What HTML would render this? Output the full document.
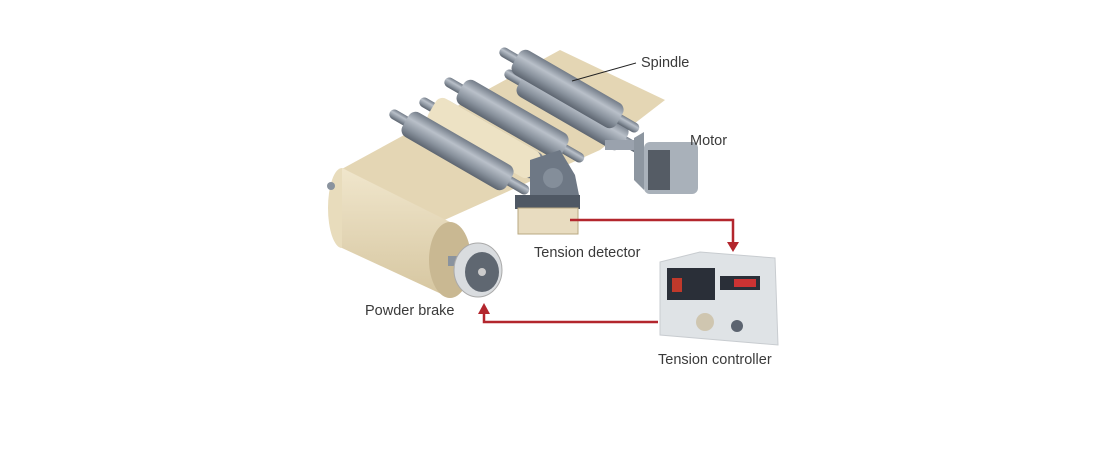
<!DOCTYPE html>
<html><head><meta charset="utf-8"><style>
html,body{margin:0;padding:0;background:#fff;}
svg{display:block}
text{font-family:"Liberation Sans",sans-serif;fill:#3a3a3a;font-size:14.5px}
</style></head><body>
<svg width="1113" height="466" viewBox="0 0 1113 466">
<defs>
<linearGradient id="rg" x1="0" y1="0" x2="0" y2="1">
<stop offset="0" stop-color="#737c88"/><stop offset="0.35" stop-color="#b9c0c9"/><stop offset="0.7" stop-color="#8a939e"/><stop offset="1" stop-color="#5d6570"/></linearGradient>
<linearGradient id="bg" x1="0" y1="0" x2="0" y2="1">
<stop offset="0" stop-color="#f0e6cc"/><stop offset="1" stop-color="#d6c6a0"/></linearGradient>
<g id="roll">
<rect x="0" y="-5" width="160" height="10" rx="5" fill="url(#rg)"/>
<rect x="18" y="-14" width="120" height="28" rx="8" fill="url(#rg)"/>
</g>
</defs>
<!-- web -->
<polygon points="560,50 665,100 600,150 440,222 340,170" fill="#e4d6b4"/>
<!-- back rollers -->
<g transform="translate(505,72) rotate(30)"><use href="#roll"/></g>
<g transform="translate(420,100) rotate(30)"><use href="#roll"/></g>
<g transform="translate(432,108) rotate(30)"><rect x="0" y="-15" width="120" height="30" rx="8" fill="#ede2c4"/></g>
<g transform="translate(500,50) rotate(30)"><use href="#roll"/></g>
<g transform="translate(445,80) rotate(30)"><use href="#roll"/></g>
<g transform="translate(390,112) rotate(30)"><use href="#roll"/></g>
<!-- big roll -->
<ellipse cx="342" cy="208" rx="14" ry="40" fill="#e8dcbc"/>
<polygon points="342,168 450,222 450,298 342,248" fill="url(#bg)"/>
<ellipse cx="450" cy="260" rx="21" ry="38" fill="#c9b892"/>
<circle cx="331" cy="186" r="4" fill="#8a939e"/>
<rect x="448" y="256" width="18" height="10" fill="#8a939e"/>
<!-- brake -->
<ellipse cx="478" cy="270" rx="24" ry="27" fill="#d9dcdf" stroke="#aaa"/>
<ellipse cx="482" cy="272" rx="17" ry="20" fill="#5f6771"/>
<circle cx="482" cy="272" r="4" fill="#ccc"/>
<!-- detector -->
<path d="M530,160 L560,150 L575,175 L580,200 L530,205 Z" fill="#6e7885"/>
<circle cx="553" cy="178" r="10" fill="#848e9a"/>
<rect x="515" y="195" width="65" height="14" fill="#4f5864"/>
<rect x="518" y="208" width="60" height="26" fill="#e8dcc0" stroke="#b9a982"/>
<!-- motor -->
<rect x="605" y="140" width="35" height="10" fill="#9aa2ad"/>
<polygon points="634,138 644,132 644,190 634,180" fill="#8d96a0"/>
<rect x="644" y="142" width="54" height="52" rx="6" fill="#a9b1ba"/>
<rect x="648" y="150" width="22" height="40" fill="#555c65"/>
<!-- spindle leader -->
<line x1="572" y1="81" x2="636" y2="63" stroke="#222" stroke-width="1"/>
<!-- controller -->
<path d="M660,262 L700,252 L775,258 L778,345 L660,335 Z" fill="#dfe3e6" stroke="#c8ccd0"/>
<rect x="667" y="268" width="48" height="32" fill="#2a2f38"/>
<rect x="672" y="278" width="10" height="14" fill="#c0392b"/>
<rect x="720" y="276" width="40" height="14" fill="#2a2f38"/>
<rect x="734" y="279" width="22" height="8" fill="#c33"/>
<circle cx="705" cy="322" r="9" fill="#cfc6b0"/>
<circle cx="737" cy="326" r="6" fill="#5c6470"/>
<!-- arrows -->
<polyline points="570,220 733,220 733,244" fill="none" stroke="#b3262d" stroke-width="2.5"/>
<polygon points="727,242 739,242 733,252" fill="#b3262d"/>
<polyline points="658,322 484,322 484,312" fill="none" stroke="#b3262d" stroke-width="2.5"/>
<polygon points="478,314 490,314 484,303" fill="#b3262d"/>
<!-- labels -->
<text x="641" y="67">Spindle</text>
<text x="690" y="145">Motor</text>
<text x="534" y="257">Tension detector</text>
<text x="365" y="315">Powder brake</text>
<text x="658" y="364">Tension controller</text>
</svg>
</body></html>
